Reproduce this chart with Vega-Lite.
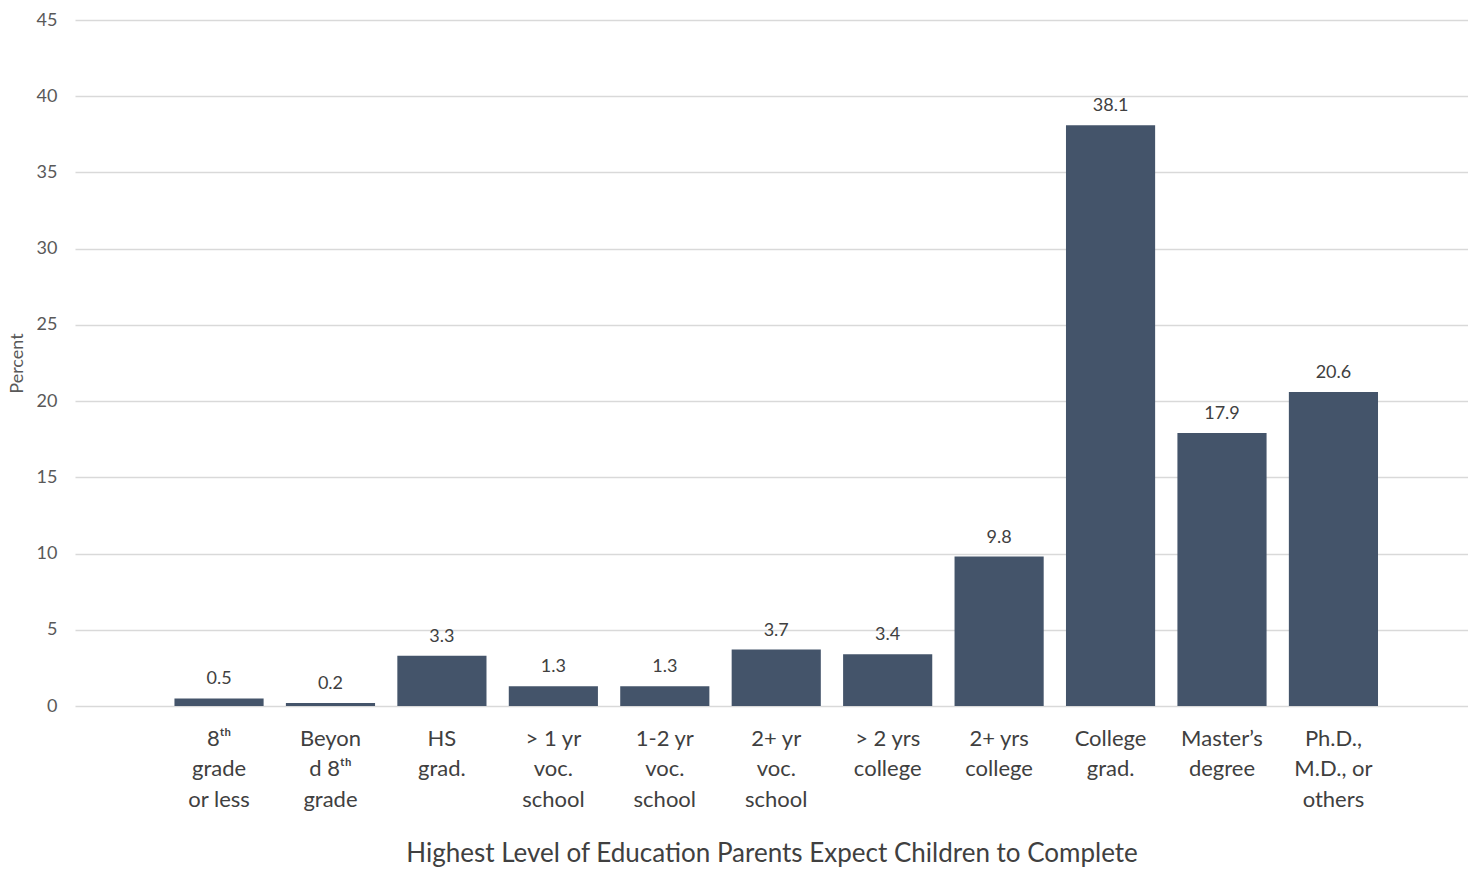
{
  "$schema": "https://vega.github.io/schema/vega-lite/v6.json",
  "width": 1393,
  "height": 686,
  "autosize": {"type": "none"},
  "padding": {"left": 75, "top": 20, "right": 0, "bottom": 164},
  "background": "white",
  "config": {
    "font": "Lato",
    "view": {"stroke": null}
  },
  "data": {
    "values": [
      {"cat": "8ᵗʰ\ngrade\nor less", "pct": 0.5},
      {"cat": "Beyon\nd 8ᵗʰ\ngrade", "pct": 0.2},
      {"cat": "HS\ngrad.", "pct": 3.3},
      {"cat": "> 1 yr\nvoc.\nschool", "pct": 1.3},
      {"cat": "1-2  yr\nvoc.\nschool", "pct": 1.3},
      {"cat": "2+  yr\nvoc.\nschool", "pct": 3.7},
      {"cat": "> 2 yrs\ncollege", "pct": 3.4},
      {"cat": "2+ yrs\ncollege", "pct": 9.8},
      {"cat": "College\ngrad.", "pct": 38.1},
      {"cat": "Master’s\ndegree", "pct": 17.9},
      {"cat": "Ph.D.,\nM.D., or\nothers", "pct": 20.6}
    ]
  },
  "encoding": {
    "x": {
      "field": "cat",
      "type": "nominal",
      "sort": null,
      "scale": {"paddingInner": 0.2, "paddingOuter": 0.85, "align": 0.525},
      "axis": {
        "title": "Highest Level of Education Parents Expect Children to Complete",
        "titleFont": "Lato",
        "titleFontSize": 26,
        "titleFontWeight": "normal",
        "titleColor": "#404040",
        "titlePadding": 30,
        "labelAngle": 0,
        "labelFontSize": 22,
        "labelColor": "#404040",
        "labelLineHeight": 30.5,
        "labelPadding": 22,
        "labelBaseline": "top",
        "ticks": false,
        "domain": false,
        "grid": false,
        "labelExpr": "split(datum.label, '\\n')"
      }
    },
    "y": {
      "field": "pct",
      "type": "quantitative",
      "scale": {"domain": [0, 45], "nice": false},
      "axis": {
        "title": "Percent",
        "titleFontSize": 18,
        "titleFontWeight": "normal",
        "titleColor": "#595959",
        "titlePadding": 10,
        "values": [0, 5, 10, 15, 20, 25, 30, 35, 40, 45],
        "labelFontSize": 18,
        "labelColor": "#595959",
        "labelPadding": 18,
        "ticks": false,
        "domain": false,
        "grid": true,
        "gridColor": "#d9d9d9",
        "gridWidth": 1.5
      }
    }
  },
  "layer": [
    {"mark": {"type": "bar", "color": "#44546A"}},
    {
      "mark": {"type": "text", "baseline": "bottom", "dy": -10, "fontSize": 18, "color": "#404040"},
      "encoding": {"text": {"field": "pct", "type": "quantitative", "format": ".1f"}}
    }
  ]
}
